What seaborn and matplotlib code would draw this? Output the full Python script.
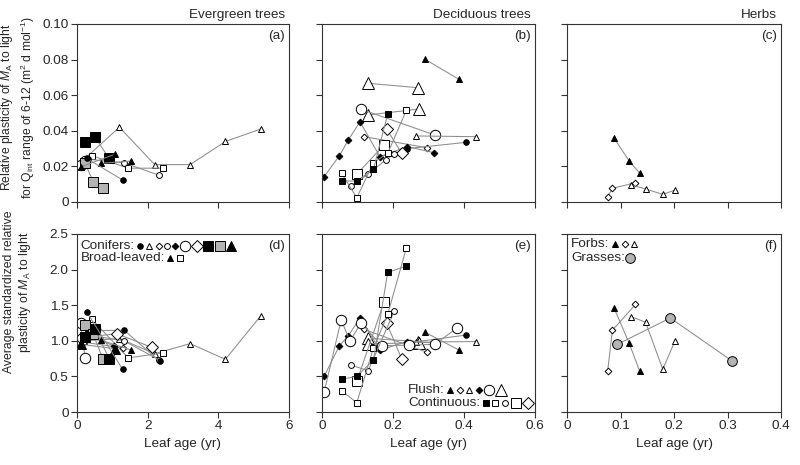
import matplotlib
matplotlib.use("Agg")
import matplotlib.pyplot as plt
import seaborn as sns

# ---------------- data ----------------
# Evergreen trees: (a) relative plasticity per Qint range, (d) standardized plasticity
ev_tri_o_age = [0.2, 1.2, 2.2, 3.2, 4.2, 5.2]
ev_tri_o_a = [0.024, 0.042, 0.021, 0.021, 0.034, 0.041]
ev_tri_o_d = [1.00, 1.03, 0.82, 0.96, 0.74, 1.35]

ev_sq_o_age = [0.43, 1.45, 2.44]
ev_sq_o_a = [0.026, 0.019, 0.019]
ev_sq_o_d = [1.30, 0.76, 0.83]

ev_circ_o_age = [0.32, 1.33, 2.33]
ev_circ_o_a = [0.024, 0.022, 0.015]
ev_circ_o_d = [1.08, 1.00, 0.73]

ev_circ_f_age = [0.27, 1.29]
ev_circ_f_a = [0.0245, 0.0124]
ev_circ_f_d = [1.41, 0.60]

ev_circ_f2_age = [0.31, 1.33, 2.35]
ev_circ_f2_d = [1.14, 1.15, 0.71]

ev_sq_f_age = [0.22, 0.50, 0.91]
ev_sq_f_a = [0.0335, 0.0367, 0.0245]
ev_sq_f_d = [1.06, 1.17, 0.75]

ev_sq_g_age = [0.23, 0.46, 0.73]
ev_sq_g_a = [0.0217, 0.0114, 0.0077]
ev_sq_g_d = [1.22, 1.09, 0.75]

ev_circ_L_age = [0.10, 0.23]
ev_circ_L_a = [0.021, 0.023]
ev_circ_L_d = [1.25, 0.76]

ev_dia_L_age = [0.10, 1.12, 2.11]
ev_dia_L_d = [1.04, 1.10, 0.91]

ev_dia_o_age = [0.20, 1.30]
ev_dia_o_d = [0.98, 0.90]

ev_dia_f_age = [0.25, 1.05]
ev_dia_f_d = [1.08, 0.93]

ev_tri_fL_age = [0.12, 1.07]
ev_tri_fL_a = [0.0198, 0.0268]
ev_tri_fL_d = [0.95, 0.89]

ev_tri_f_age = [0.67, 1.54]
ev_tri_f_a = [0.0217, 0.023]
ev_tri_f_d = [1.01, 0.87]

# Deciduous trees: (b) and (e)
de_sq_f_age = [0.055, 0.098, 0.145, 0.185, 0.238]
de_sq_f_b = [0.0118, 0.0118, 0.0184, 0.0494]
de_sq_f_e = [0.46, 0.50, 0.73, 1.96, 2.05]

de_sq_o_age = [0.055, 0.098, 0.145, 0.185, 0.238]
de_sq_o_b = [0.0161, 0.0024, 0.0221, 0.0273, 0.0517]
de_sq_o_e = [0.30, 0.13, 0.90, 1.37, 2.31]

de_circ_o_age = [0.081, 0.130, 0.179, 0.204]
de_circ_o_b = [0.0092, 0.0156, 0.0236, 0.027]
de_circ_o_e_age = [0.081, 0.130, 0.204]
de_circ_o_e = [0.66, 0.58, 1.42]

de_sq_L_age = [0.098, 0.175]
de_sq_L_b = [0.0157, 0.032]
de_sq_L_e = [0.43, 1.55]

de_dia_L_age = [0.182, 0.225]
de_dia_L_b = [0.041, 0.0273]
de_dia_L_e = [1.25, 0.74]

de_tri_f_age = [0.290, 0.386]
de_tri_f_b = [0.0802, 0.0689]
de_tri_f_e = [1.12, 0.87]

de_dia_o_age = [0.119, 0.295]
de_dia_o_b = [0.0367, 0.0305]
de_dia_o_e = [1.16, 0.84]

de_tri_o_age = [0.264, 0.433]
de_tri_o_b = [0.0371, 0.0367]
de_tri_o_e = [0.98, 0.99]

de_dia_f_age = [0.006, 0.049, 0.074, 0.107, 0.163, 0.240, 0.316]
de_dia_f_b = [0.0142, 0.026, 0.0348, 0.0451, 0.0255, 0.0311, 0.0277]
de_dia_f_e = [0.50, 0.93, 1.07, 1.32, 0.87, 0.99, 0.97]

de_circ_L_b_age = [0.109, 0.318]
de_circ_L_b = [0.0522, 0.0376]
de_circ_L_e_age = [0.006, 0.054, 0.079, 0.110, 0.168, 0.245, 0.318, 0.380]
de_circ_L_e = [0.28, 1.29, 1.00, 1.25, 0.93, 0.94, 0.95, 1.18]

de_tri_L1_age = [0.129, 0.271]
de_tri_L1_b = [0.0667, 0.0642]
de_tri_L1_e = [1.035, 0.99]

de_tri_L2_age = [0.129, 0.273]
de_tri_L2_b = [0.0489, 0.0522]
de_tri_L2_e = [0.96, 0.97]

de_circ_f_age = [0.240, 0.405]
de_circ_f_b = [0.030, 0.0335]
de_circ_f_e = [0.97, 1.08]

# Herbs: (c) and (f)
he_tri_f_age = [0.088, 0.116, 0.136]
he_tri_f_c = [0.0358, 0.0232, 0.0161]
he_tri_f_f = [1.46, 0.97, 0.57]

he_dia_o_age = [0.076, 0.085, 0.128]
he_dia_o_c = [0.003, 0.0077, 0.0108]
he_dia_o_f = [0.58, 1.15, 1.51]

he_tri_o_age = [0.120, 0.147, 0.179, 0.202]
he_tri_o_c = [0.0096, 0.0073, 0.0043, 0.0067]
he_tri_o_f = [1.34, 1.26, 0.60, 1.00]

he_grass_age = [0.094, 0.193, 0.308]
he_grass_f = [0.95, 1.32, 0.72]

col_titles = ["Evergreen trees", "Deciduous trees", "Herbs"]
panel_letters = ["(a)", "(b)", "(c)", "(d)", "(e)", "(f)"]

# ---------------- styles ----------------
GRAY = "#b4b4b4"
LINE = "#8c8c8c"
ST = {
    "circ_f_s": ("o", 4.0, "black"),
    "tri_o_s": ("^", 4.6, "white"),
    "dia_o_s": ("D", 3.4, "white"),
    "circ_o_s": ("o", 4.2, "white"),
    "dia_f_s": ("D", 3.4, "black"),
    "circ_o_l": ("o", 7.5, "white"),
    "dia_o_l": ("D", 6.0, "white"),
    "sq_f_l": ("s", 6.5, "black"),
    "sq_g_l": ("s", 6.5, GRAY),
    "tri_f_l": ("^", 7.5, "black"),
    "tri_f_s": ("^", 4.6, "black"),
    "sq_o_s": ("s", 4.0, "white"),
    "sq_f_s": ("s", 4.0, "black"),
    "sq_o_l": ("s", 6.5, "white"),
    "tri_o_l": ("^", 8.0, "white"),
    "circ_g_l": ("o", 7.0, GRAY),
}

sns.set_style("ticks")
plt.rcParams["font.family"] = ["Liberation Sans", "DejaVu Sans"]
plt.rcParams["mathtext.fontset"] = "custom"
plt.rcParams["mathtext.rm"] = "Liberation Sans"
plt.rcParams["mathtext.it"] = "Liberation Sans:italic"
FS = 9.7

fig = plt.figure(figsize=(8, 4.65), dpi=100)
W, H = 800, 465
lefts = [77, 322, 567]
widths = [212, 213, 214]
tops = [24, 234]
hgt = 178
axes = []
for r in range(2):
    row = []
    for c in range(3):
        ax = fig.add_axes([lefts[c] / W, 1 - (tops[r] + hgt) / H, widths[c] / W, hgt / H])
        row.append(ax)
    axes.append(row)


def draw(ax, xs, ys, style):
    m, ms, fc = ST[style]
    sns.lineplot(x=xs, y=ys, ax=ax, sort=False, estimator=None, color=LINE,
                 linewidth=0.75, marker=m, markersize=ms, markerfacecolor=fc,
                 markeredgecolor="black", markeredgewidth=0.7, legend=False)


aA, aB, aC = axes[0]
aD, aE, aF = axes[1]

# (a)
draw(aA, ev_tri_o_age, ev_tri_o_a, "tri_o_s")
draw(aA, ev_sq_o_age, ev_sq_o_a, "sq_o_s")
draw(aA, ev_circ_o_age, ev_circ_o_a, "circ_o_s")
draw(aA, ev_circ_L_age, ev_circ_L_a, "circ_o_l")
draw(aA, ev_sq_g_age, ev_sq_g_a, "sq_g_l")
draw(aA, ev_sq_f_age, ev_sq_f_a, "sq_f_l")
draw(aA, ev_tri_fL_age, ev_tri_fL_a, "tri_f_s")
draw(aA, ev_tri_f_age, ev_tri_f_a, "tri_f_s")
draw(aA, ev_circ_f_age, ev_circ_f_a, "circ_f_s")

# (d)
draw(aD, ev_tri_o_age, ev_tri_o_d, "tri_o_s")
draw(aD, ev_sq_o_age, ev_sq_o_d, "sq_o_s")
draw(aD, ev_circ_o_age, ev_circ_o_d, "circ_o_s")
draw(aD, ev_circ_f2_age, ev_circ_f2_d, "circ_f_s")
draw(aD, ev_dia_L_age, ev_dia_L_d, "dia_o_l")
draw(aD, ev_dia_o_age, ev_dia_o_d, "dia_o_s")
draw(aD, ev_dia_f_age, ev_dia_f_d, "dia_f_s")
draw(aD, ev_circ_L_age, ev_circ_L_d, "circ_o_l")
draw(aD, ev_sq_g_age, ev_sq_g_d, "sq_g_l")
draw(aD, ev_sq_f_age, ev_sq_f_d, "sq_f_l")
draw(aD, ev_tri_fL_age, ev_tri_fL_d, "tri_f_l")
draw(aD, ev_tri_f_age, ev_tri_f_d, "tri_f_s")
draw(aD, ev_circ_f_age, ev_circ_f_d, "circ_f_s")

# (b)
draw(aB, de_tri_f_age, de_tri_f_b, "tri_f_s")
draw(aB, de_tri_L1_age, de_tri_L1_b, "tri_o_l")
draw(aB, de_tri_L2_age, de_tri_L2_b, "tri_o_l")
draw(aB, de_circ_L_b_age, de_circ_L_b, "circ_o_l")
draw(aB, de_tri_o_age, de_tri_o_b, "tri_o_s")
draw(aB, de_dia_o_age, de_dia_o_b, "dia_o_s")
draw(aB, de_circ_f_age, de_circ_f_b, "circ_f_s")
draw(aB, de_dia_f_age, de_dia_f_b, "dia_f_s")
draw(aB, de_dia_L_age, de_dia_L_b, "dia_o_l")
draw(aB, de_sq_L_age, de_sq_L_b, "sq_o_l")
draw(aB, de_circ_o_age, de_circ_o_b, "circ_o_s")
draw(aB, de_sq_o_age, de_sq_o_b, "sq_o_s")
draw(aB, de_sq_f_age[:4], de_sq_f_b, "sq_f_s")

# (e)
draw(aE, de_tri_f_age, de_tri_f_e, "tri_f_s")
draw(aE, de_tri_L1_age, de_tri_L1_e, "tri_o_l")
draw(aE, de_tri_L2_age, de_tri_L2_e, "tri_o_l")
draw(aE, de_tri_o_age, de_tri_o_e, "tri_o_s")
draw(aE, de_dia_o_age, de_dia_o_e, "dia_o_s")
draw(aE, de_circ_f_age, de_circ_f_e, "circ_f_s")
draw(aE, de_dia_f_age, de_dia_f_e, "dia_f_s")
draw(aE, de_circ_L_e_age, de_circ_L_e, "circ_o_l")
draw(aE, de_dia_L_age, de_dia_L_e, "dia_o_l")
draw(aE, de_sq_L_age, de_sq_L_e, "sq_o_l")
draw(aE, de_circ_o_e_age, de_circ_o_e, "circ_o_s")
draw(aE, de_sq_o_age, de_sq_o_e, "sq_o_s")
draw(aE, de_sq_f_age, de_sq_f_e, "sq_f_s")

# (c)
draw(aC, he_tri_f_age, he_tri_f_c, "tri_f_s")
draw(aC, he_dia_o_age, he_dia_o_c, "dia_o_s")
draw(aC, he_tri_o_age, he_tri_o_c, "tri_o_s")

# (f)
draw(aF, he_tri_f_age, he_tri_f_f, "tri_f_s")
draw(aF, he_dia_o_age, he_dia_o_f, "dia_o_s")
draw(aF, he_tri_o_age, he_tri_o_f, "tri_o_s")
draw(aF, he_grass_age, he_grass_f, "circ_g_l")

# ---------------- axes formatting ----------------
xlims = [(0, 6), (0, 0.6), (0, 0.4)]
xticks = [[0, 2, 4, 6], [0, 0.2, 0.4, 0.6], [0, 0.1, 0.2, 0.3, 0.4]]
xticklabels = [["0", "2", "4", "6"], ["0", "0.2", "0.4", "0.6"], ["0", "0.1", "0.2", "0.3", "0.4"]]
yticks = [[0, 0.02, 0.04, 0.06, 0.08, 0.10], [0, 0.5, 1.0, 1.5, 2.0, 2.5]]
yticklabels = [["0", "0.02", "0.04", "0.06", "0.08", "0.10"], ["0", "0.5", "1.0", "1.5", "2.0", "2.5"]]
ylims = [(0, 0.10), (0, 2.5)]

for r in range(2):
    for c in range(3):
        ax = axes[r][c]
        ax.set_xlim(*xlims[c])
        ax.set_ylim(*ylims[r])
        ax.set_xticks(xticks[c])
        ax.set_yticks(yticks[r])
        if r == 1:
            ax.set_xticklabels(xticklabels[c], fontsize=FS)
            ax.set_xlabel("Leaf age (yr)", fontsize=FS, labelpad=4)
        else:
            ax.set_xticklabels([])
        if c == 0:
            ax.set_yticklabels(yticklabels[r], fontsize=FS)
        else:
            ax.set_yticklabels([])
        ax.set_ylabel("")
        for s in ax.spines.values():
            s.set_visible(True)
            s.set_linewidth(0.8)
            s.set_color("#333333")
        ax.tick_params(direction="out", length=4, width=0.8, color="#333333", pad=2,
                       top=False, right=False)
        ax.text(0.981, 0.933, panel_letters[r * 3 + c], transform=ax.transAxes,
                ha="right", va="center", fontsize=FS)

for c in range(3):
    fig.text((lefts[c] + widths[c] - 4) / W, 1 - 15 / H, col_titles[c],
             ha="right", va="center", fontsize=FS)

fig.text(18 / W, 1 - 107 / H,
         "Relative plasticity of $M_{\\rm A}$ to light\nfor Q$_{\\rm int}$ range of 6-12 (m$^{2}$ d mol$^{-1}$)",
         rotation=90, ha="center", va="center", fontsize=8.7, multialignment="center",
         linespacing=1.25)
fig.text(18 / W, 1 - 292 / H,
         "Average standardized relative\nplasticity of $M_{\\rm A}$ to light",
         rotation=90, ha="center", va="center", fontsize=8.8, multialignment="center",
         linespacing=1.25)

# ---------------- in-panel keys ----------------
renderer = fig.canvas.get_renderer()


def key(ax, label, px0, py, items, left, width, gap=5.5, bottom=412):
    x0 = (px0 - left) / width
    y0 = (bottom - py) / hgt
    t = ax.text(x0, y0, label, transform=ax.transAxes, ha="left", va="center", fontsize=FS)
    end_px = t.get_window_extent(renderer).x1  # display px from left
    shift = end_px + gap - items[0][0]
    for px, style in items:
        m, ms, fc = ST[style]
        ax.plot([(px + shift - left) / width], [y0], transform=ax.transAxes, marker=m,
                markersize=ms, markerfacecolor=fc, markeredgecolor="black",
                markeredgewidth=0.7, linestyle="none", clip_on=False)


key(aD, "Conifers:", 80.5, 245.7,
    [(140, "circ_f_s"), (149.3, "tri_o_s"), (159.3, "dia_o_s"), (166.7, "circ_o_s"),
     (175, "dia_f_s"), (185, "circ_o_l"), (196.7, "dia_o_l"), (208.3, "sq_f_l"),
     (220, "sq_g_l"), (230.7, "tri_f_l")], 77, 212)
key(aD, "Broad-leaved:", 80.5, 258.3,
    [(171.7, "tri_f_s"), (181, "sq_o_s")], 77, 212)

key(aE, "Flush:", 408, 390,
    [(440.7, "tri_f_s"), (450, "dia_o_s"), (459.3, "tri_o_s"), (469.3, "dia_f_s"),
     (479.3, "circ_o_l"), (491.7, "tri_o_l")], 322, 213)
key(aE, "Continuous:", 408, 403.3,
    [(485, "sq_f_s"), (494.3, "sq_o_s"), (504.3, "circ_o_s"), (515, "sq_o_l"),
     (527.3, "dia_o_l")], 322, 213)

key(aF, "Forbs:", 571, 244.3,
    [(615, "tri_f_s"), (625, "dia_o_s"), (634, "tri_o_s")], 567, 214)
key(aF, "Grasses:", 571, 258.3,
    [(631, "circ_g_l")], 567, 214)

fig.savefig("out.png", dpi=100)
